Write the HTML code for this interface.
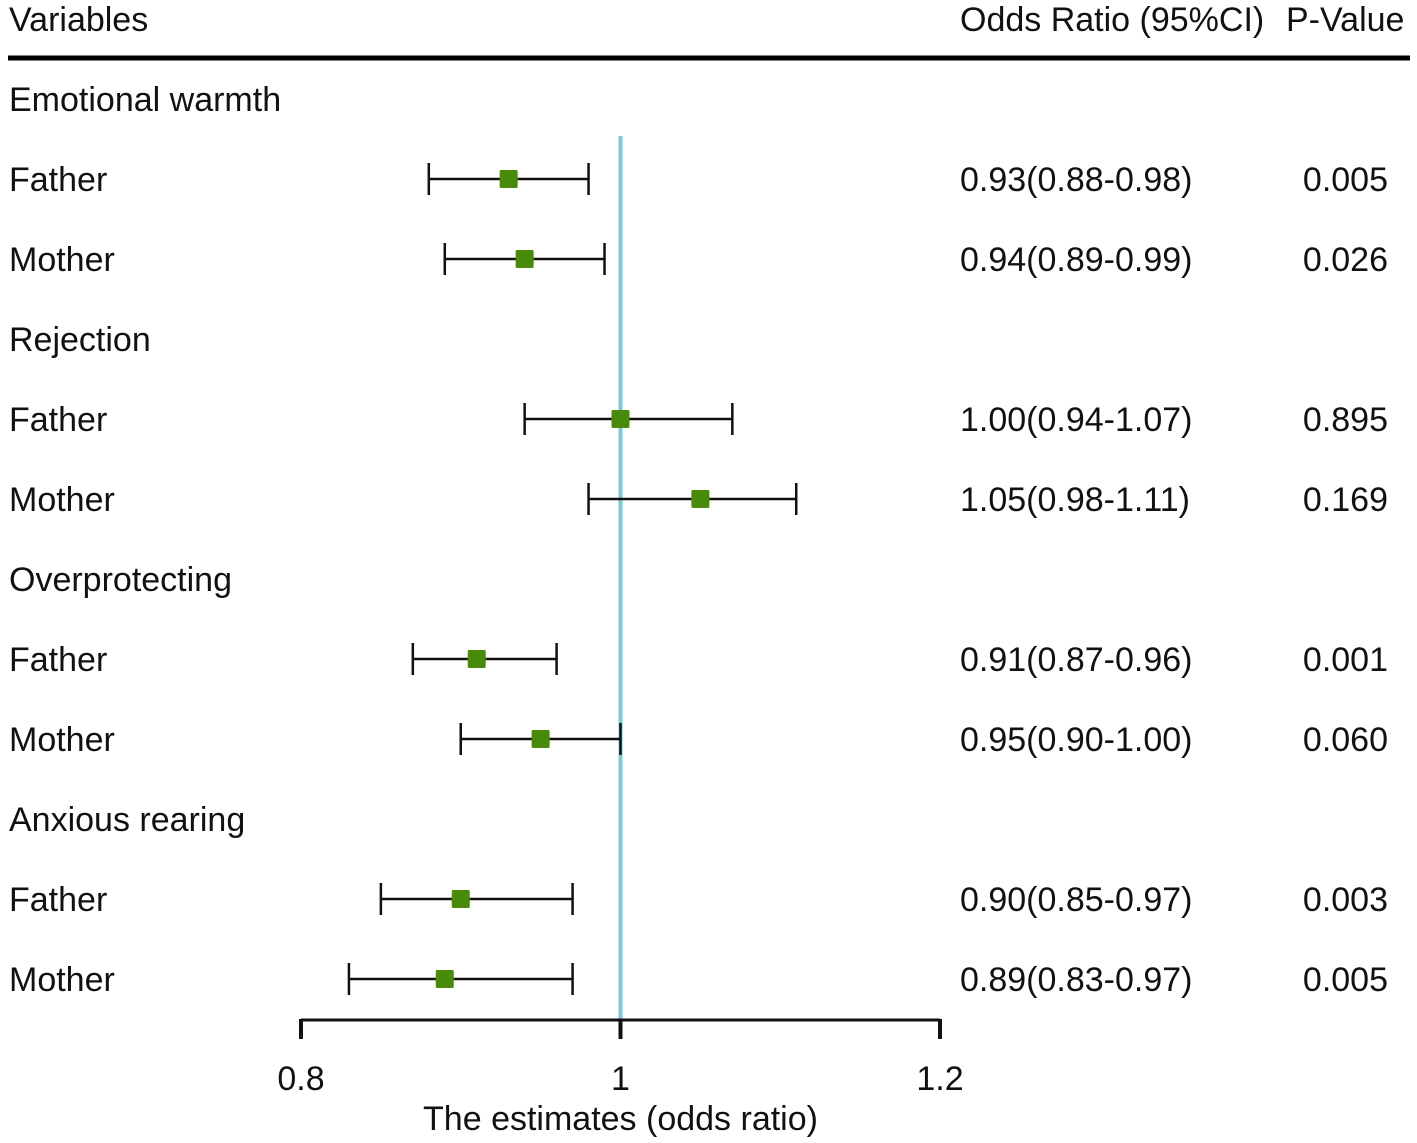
<!DOCTYPE html>
<html><head><meta charset="utf-8"><style>
body{margin:0;background:#fff}
svg{display:block}
text{font-family:"Liberation Sans",Arial,sans-serif;font-size:34px;fill:#111}
</style></head><body>
<svg id="chart" width="1417" height="1143" viewBox="0 0 1417 1143">
<text x="9" y="31">Variables</text>
<text x="960" y="31">Odds Ratio (95%CI)</text>
<text x="1286" y="31">P-Value</text>
<line x1="8" y1="58" x2="1410" y2="58" stroke="#000" stroke-width="5"/>
<g id="rows"></g>
<g id="axis"></g>
</svg>
<script>
const labels=["Emotional warmth","Father","Mother","Rejection","Father","Mother","Overprotecting","Father","Mother","Anxious rearing","Father","Mother"];
const isHeader=[true,false,false,true,false,false,true,false,false,true,false,false];
const est=[null,0.93,0.94,null,1.00,1.05,null,0.91,0.95,null,0.90,0.89];
const lo=[null,0.88,0.89,null,0.94,0.98,null,0.87,0.90,null,0.85,0.83];
const hi=[null,0.98,0.99,null,1.07,1.11,null,0.96,1.00,null,0.97,0.97];
const orText=["","0.93(0.88-0.98)","0.94(0.89-0.99)","","1.00(0.94-1.07)","1.05(0.98-1.11)","","0.91(0.87-0.96)","0.95(0.90-1.00)","","0.90(0.85-0.97)","0.89(0.83-0.97)"];
const pText=["","0.005","0.026","","0.895","0.169","","0.001","0.060","","0.003","0.005"];
const ticks=[0.8,1,1.2];
const tickLabels=["0.8","1","1.2"];
const NS="http://www.w3.org/2000/svg";
const X=v=>301+(v-0.8)*1597.5;
const Y=i=>99+i*80;
function mk(tag,attrs,parent){const e=document.createElementNS(NS,tag);for(const k in attrs)e.setAttribute(k,attrs[k]);parent.appendChild(e);return e;}
const rows=document.getElementById('rows');
const axis=document.getElementById('axis');
const ref=mk('line',{x1:X(1),x2:X(1),y1:136,y2:1020,stroke:'#7ec8d2','stroke-width':4},rows);


labels.forEach((lab,i)=>{
  const y=Y(i);
  const t=mk('text',{x:9,y:y+12},rows);t.textContent=lab;
  
  
  if(est[i]==null)return;
  const g=mk('g',{},rows);
  
  
  mk('line',{x1:X(lo[i]),x2:X(hi[i]),y1:y,y2:y,stroke:'#111','stroke-width':2.5},g);
  mk('line',{x1:X(lo[i]),x2:X(lo[i]),y1:y-16,y2:y+16,stroke:'#111','stroke-width':2.5},g);
  mk('line',{x1:X(hi[i]),x2:X(hi[i]),y1:y-16,y2:y+16,stroke:'#111','stroke-width':2.5},g);
  const b=mk('rect',{x:X(est[i])-9,y:y-9,width:18,height:18,rx:1.5,fill:'#4a8a0a'},g);
  
  
  const o=mk('text',{x:960,y:y+12},rows);o.textContent=orText[i];
  
  
  const p=mk('text',{x:1388,y:y+12,'text-anchor':'end'},rows);p.textContent=pText[i];
  
  
});
const al=mk('line',{x1:X(0.8),x2:X(1.2),y1:1020,y2:1020,stroke:'#111','stroke-width':3},axis);


ticks.forEach((v,k)=>{
  const tl=mk('line',{x1:X(v),x2:X(v),y1:1019,y2:1039,stroke:'#111','stroke-width':4},axis);
  
  
  const tt=mk('text',{x:X(v),y:1090,'text-anchor':'middle','font-size':31},axis);tt.textContent=tickLabels[k];
  
  
});
const xt=mk('text',{x:X(1),y:1130,'text-anchor':'middle'},axis);xt.textContent="The estimates (odds ratio)";


</script>
</body></html>
